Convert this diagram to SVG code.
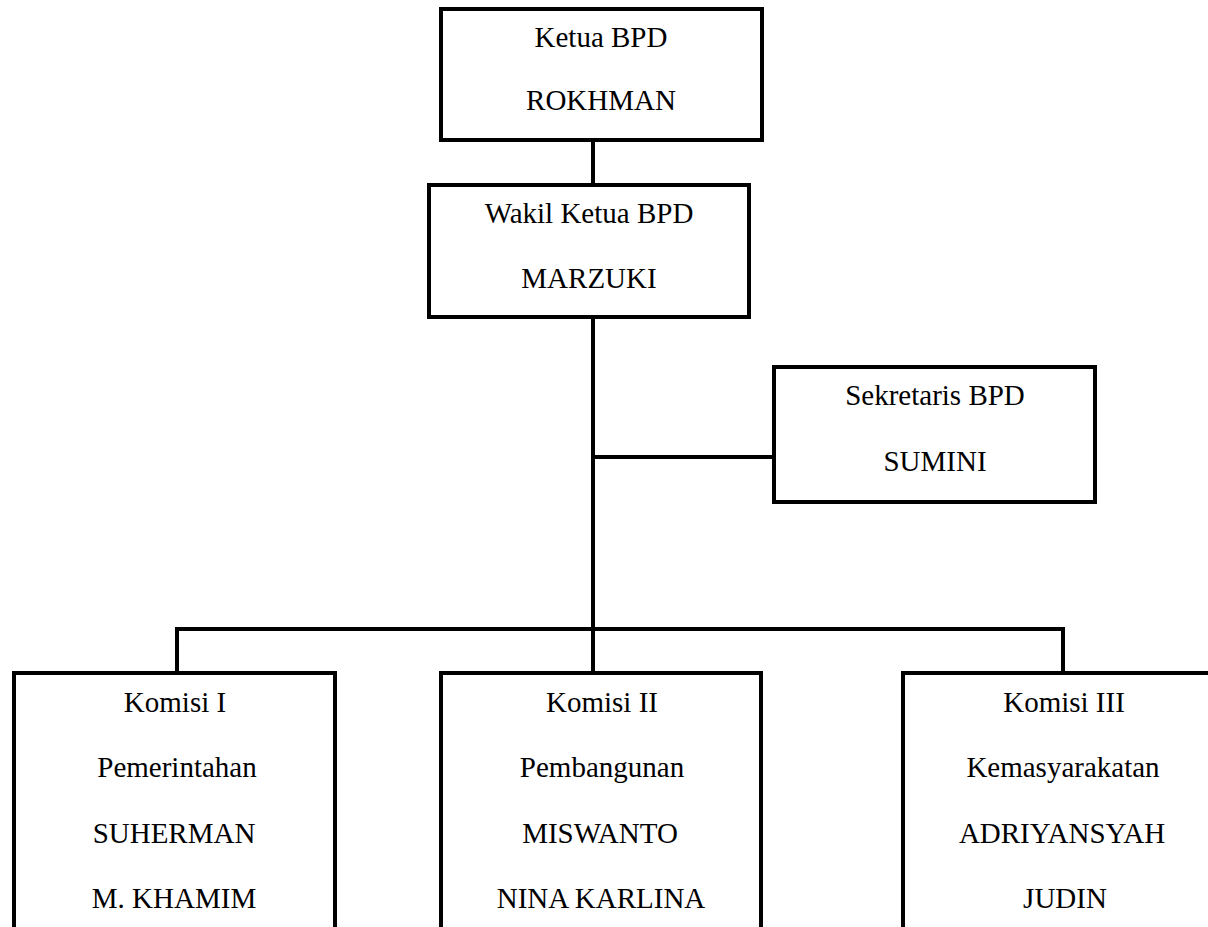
<svg xmlns="http://www.w3.org/2000/svg" width="1208" height="927" viewBox="0 0 1208 927">
<style>
.box{fill:#fff;stroke:#000;stroke-width:4}
.ln{fill:none;stroke:#000;stroke-width:4}
text{font-family:"Liberation Serif","Times New Roman",serif;font-size:29px;fill:#000;text-anchor:middle}
</style>
<rect width="1208" height="927" fill="#fff"/>
<g id="connectors">
<line class="ln" x1="593" y1="140" x2="593" y2="673"/>
<line class="ln" x1="593" y1="457" x2="774" y2="457"/>
<polyline class="ln" points="177,673 177,629 1063,629 1063,673"/>
</g>
<g id="ketua">
<rect class="box" x="441" y="9" width="321" height="131"/>
<text x="601" y="47">Ketua BPD</text>
<text x="601" y="110">ROKHMAN</text>
</g>
<g id="wakil">
<rect class="box" x="429" y="185" width="320" height="132"/>
<text x="589" y="223">Wakil Ketua BPD</text>
<text x="589" y="288">MARZUKI</text>
</g>
<g id="sekretaris">
<rect class="box" x="774" y="367" width="321" height="135"/>
<text x="935" y="405">Sekretaris BPD</text>
<text x="935" y="471">SUMINI</text>
</g>
<g id="komisi1">
<rect class="box" x="14" y="673" width="321" height="290"/>
<text x="175" y="712">Komisi I</text>
<text x="177" y="777">Pemerintahan</text>
<text x="174" y="843">SUHERMAN</text>
<text x="174" y="908">M. KHAMIM</text>
</g>
<g id="komisi2">
<rect class="box" x="441" y="673" width="320" height="290"/>
<text x="602" y="712">Komisi II</text>
<text x="602" y="777">Pembangunan</text>
<text x="600" y="843">MISWANTO</text>
<text x="601" y="908">NINA KARLINA</text>
</g>
<g id="komisi3">
<rect class="box" x="903" y="673" width="321" height="290"/>
<text x="1064" y="712">Komisi III</text>
<text x="1063" y="777">Kemasyarakatan</text>
<text x="1062" y="843">ADRIYANSYAH</text>
<text x="1065" y="908">JUDIN</text>
</g>
</svg>
